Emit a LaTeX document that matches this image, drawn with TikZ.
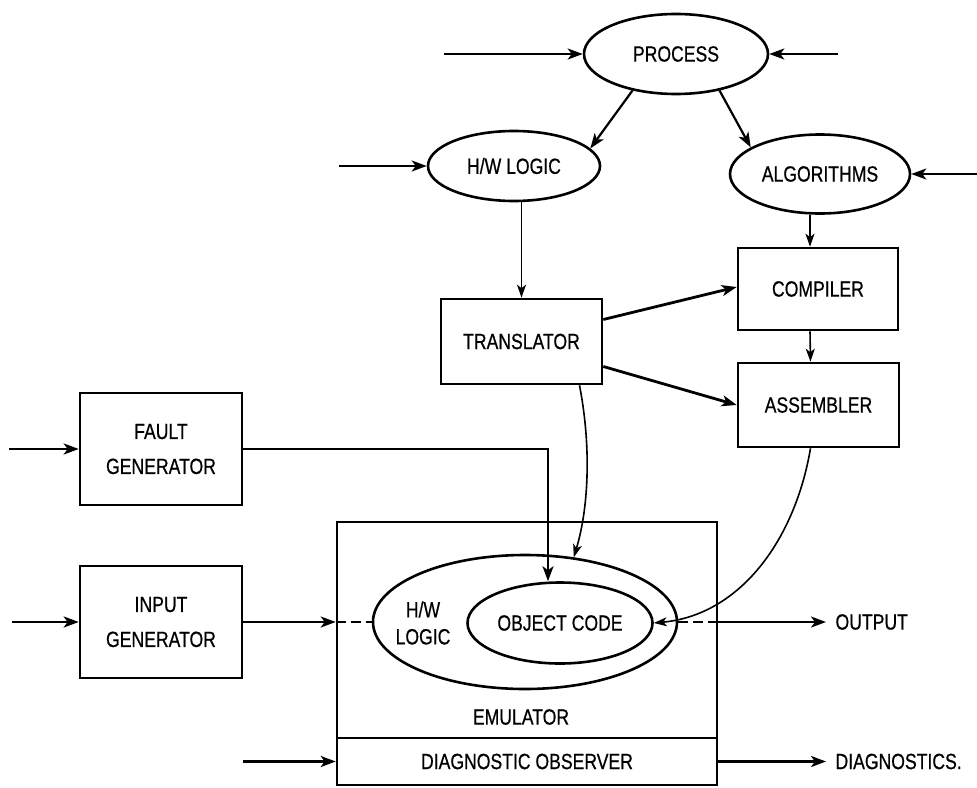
\documentclass[tikz,border=0pt]{standalone}
\usepackage{fontspec}
\setmainfont{Liberation Sans}[FakeStretch=0.8,FakeBold=0.6]
\usetikzlibrary{arrows.meta,calc,shapes.geometric}
\begin{document}
\begin{tikzpicture}[x=1pt,y=-1pt,
  txt/.style={font=\fontsize{22}{27}\selectfont},
  ell/.style={ellipse, draw, line width=2.6pt, inner sep=0pt, txt},
  box/.style={rectangle, draw, line width=2.6pt, inner sep=0pt, align=center, txt},
  gen/.style={box, minimum width=162pt, minimum height=112pt, font=\fontsize{22}{35}\selectfont},
  arr/.style={-{Stealth[length=15pt,width=11pt,inset=4pt]}, line width=2.2pt},
  thinarr/.style={-{Stealth[length=13pt,width=9pt,inset=3.5pt]}, line width=1.6pt},
  dsh/.style={line width=2.2pt, dash pattern=on 10pt off 5pt},
]
\useasboundingbox (0,0) rectangle (977,787);

% nodes
\node[ell, minimum width=184pt, minimum height=80pt] (proc) at (676,54) {PROCESS};
\node[ell, minimum width=172pt, minimum height=70pt] (hw) at (514,166) {H/W LOGIC};
\node[ell, minimum width=180pt, minimum height=79pt] (algo) at (820,174) {ALGORITHMS};
\node[box, minimum width=161pt, minimum height=85pt] (trans) at (521.5,341.5) {TRANSLATOR};
\node[box, minimum width=160pt, minimum height=82pt] (comp) at (818,289) {COMPILER};
\node[box, minimum width=161pt, minimum height=84pt] (asm) at (818.5,405) {ASSEMBLER};
\node[gen] (fault) at (161,449) {FAULT\\GENERATOR};
\node[gen] (inp) at (161,622) {INPUT\\GENERATOR};
\node[box, minimum width=380pt, minimum height=216pt] (emu) at (527,630) {};
\node[box, minimum width=380pt, minimum height=47pt] (diag) at (527,761.5) {DIAGNOSTIC OBSERVER};
\node[ell, minimum width=304pt, minimum height=134pt] (outer) at (525,622) {};
\node[ell, minimum width=185pt, minimum height=81pt] (inner) at (560,623) {OBJECT CODE};
\node[txt, align=center] (hwl) at (423,623) {H/W\\LOGIC};
\node[txt] (emut) at (521,717) {EMULATOR};
\node[txt, anchor=west] (outt) at (832,622) {OUTPUT};
\node[txt, anchor=west] (diagt) at (832,761.5) {DIAGNOSTICS.};

% free ends
\coordinate (pin1) at (444,54);
\coordinate (pin2) at (838,54);
\coordinate (hwin) at (339,166);
\coordinate (algoin) at (977,174);
\coordinate (faultin) at (9,449);
\coordinate (inpin) at (12,622);
\coordinate (diagin) at (243,761.5);
\coordinate (outend) at (826,622);
\coordinate (diagend) at (826,761.5);

% top inputs
\draw[arr] (pin1) -- (proc.west);
\draw[arr] (pin2) -- (proc.east);
\draw[arr] (hwin) -- (hw.west);
\draw[arr] (algoin) -- (algo.east);

% process outputs
\draw[arr] (proc.220) -- (hw.13);
\draw[arr] (proc.320) -- (algo.159);

% vertical arrows
\draw[thinarr] (trans.north |- hw.south) -- (trans.north);
\draw[thinarr] ([xshift=-8pt]comp.north |- algo.south) -- ([xshift=-8pt]comp.north);
\draw[thinarr] ([xshift=-8pt]comp.south) -- ([xshift=-8pt]asm.north);

% translator outputs
\draw[arr, line width=2.8pt] ([yshift=22pt]trans.east) -- ([yshift=2pt]comp.west);
\draw[arr, line width=2.8pt] ([yshift=-25pt]trans.east) -- (asm.west);

% curves into emulator
\draw[thinarr] ([xshift=58pt]trans.south) .. controls (592,450) and (588,510) .. (outer.53);
\draw[thinarr] ([xshift=-8pt]asm.south) .. controls (795,540) and (740,615) .. (inner.east);

% fault generator
\draw[arr, line width=2pt] (fault.east) -| ([xshift=-12pt]inner.north);
\draw[arr, line width=2.6pt] (faultin) -- (fault.west);

% input generator
\draw[arr, line width=2.6pt] (inpin) -- (inp.west);
\draw[arr, line width=2.4pt] (inp.east) -- (emu.west |- inp.east);
\draw[dsh] (emu.west |- inp.east) -- (outer.west);

% outputs
\draw[dsh] (outer.east) -- (emu.east |- outer.east);
\draw[arr, line width=2.4pt] (emu.east |- outer.east) -- (outend);
\draw[arr, line width=2.4pt] (diag.east) -- (diagend);
\draw[arr, line width=2.4pt] (diagin) -- (diag.west);
\end{tikzpicture}
\end{document}
